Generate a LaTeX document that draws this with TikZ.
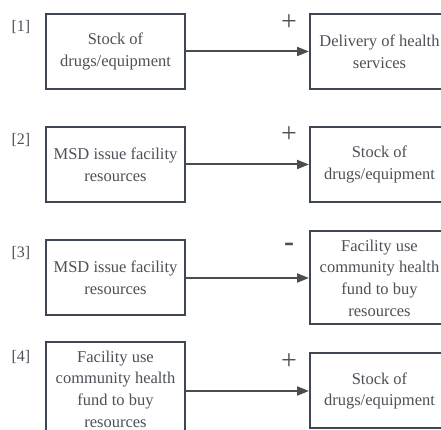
\documentclass[tikz,border=0pt]{standalone}
\usepackage{fontspec}
\setmainfont{Liberation Serif}
\usetikzlibrary{arrows.meta}
\definecolor{boxline}{RGB}{63,72,82}
\definecolor{txt}{RGB}{77,81,87}
\definecolor{arrowc}{RGB}{74,77,80}
\begin{document}
\begin{tikzpicture}[x=1pt,y=1pt,
  factor/.style={draw=boxline, line width=2pt, fill=white, text=txt,
    minimum width=139pt, inner sep=0pt, align=center,
    font=\fontsize{16.5}{21.7}\selectfont},
  tag/.style={text=txt, font=\fontsize{16}{18}\selectfont, inner sep=0pt},
  sign/.style={text=txt, font=\fontsize{28}{28}\selectfont, inner sep=0pt},
  minus/.style={text=txt, font=\fontsize{30}{30}\selectfont\bfseries, inner sep=0pt},
  link/.style={draw=arrowc, line width=2pt, -{Triangle[length=12pt,width=9pt]}}]
\useasboundingbox (0,0) rectangle (441,430);

% [1] stock drives service delivery
\node[tag] (t1) at (21,403) {[1]};
\node[factor, minimum height=75pt] (l1) at (115.5,378.5) {Stock of\\drugs/equipment};
\node[factor, minimum height=75pt] (r1) at (379.5,378.5) {Delivery of health\\services};
\draw[link] (l1) -- (r1);
\node[sign] (s1) at (289,407) {+};

% [2] MSD issues raise stock
\node[tag] (t2) at (21,290) {[2]};
\node[factor, minimum height=75pt] (l2) at (115.5,265.5) {MSD issue facility\\resources};
\node[factor, minimum height=75pt] (r2) at (379.5,265.5) {Stock of\\drugs/equipment};
\draw[link] (l2) -- (r2);
\node[sign] (s2) at (289,295) {+};

% [3] MSD issues lower own purchases
\node[tag] (t3) at (21,177) {[3]};
\node[factor, minimum height=75pt] (l3) at (115.5,152) {MSD issue facility\\resources};
\node[factor, minimum height=93pt] (r3) at (379.5,152) {Facility use\\community health\\fund to buy\\resources};
\draw[link] (l3) -- (r3);
\node[minus] (s3) at (289,183) {-};

% [4] own purchases raise stock
\node[tag] (t4) at (21,73) {[4]};
\node[factor, minimum height=93pt] (l4) at (115.5,41) {Facility use\\community health\\fund to buy\\resources};
\node[factor, minimum height=75pt] (r4) at (379.5,39) {Stock of\\drugs/equipment};
\draw[link] (l4.east |- r4) -- (r4);
\node[sign] (s4) at (289,68) {+};
\end{tikzpicture}
\end{document}
